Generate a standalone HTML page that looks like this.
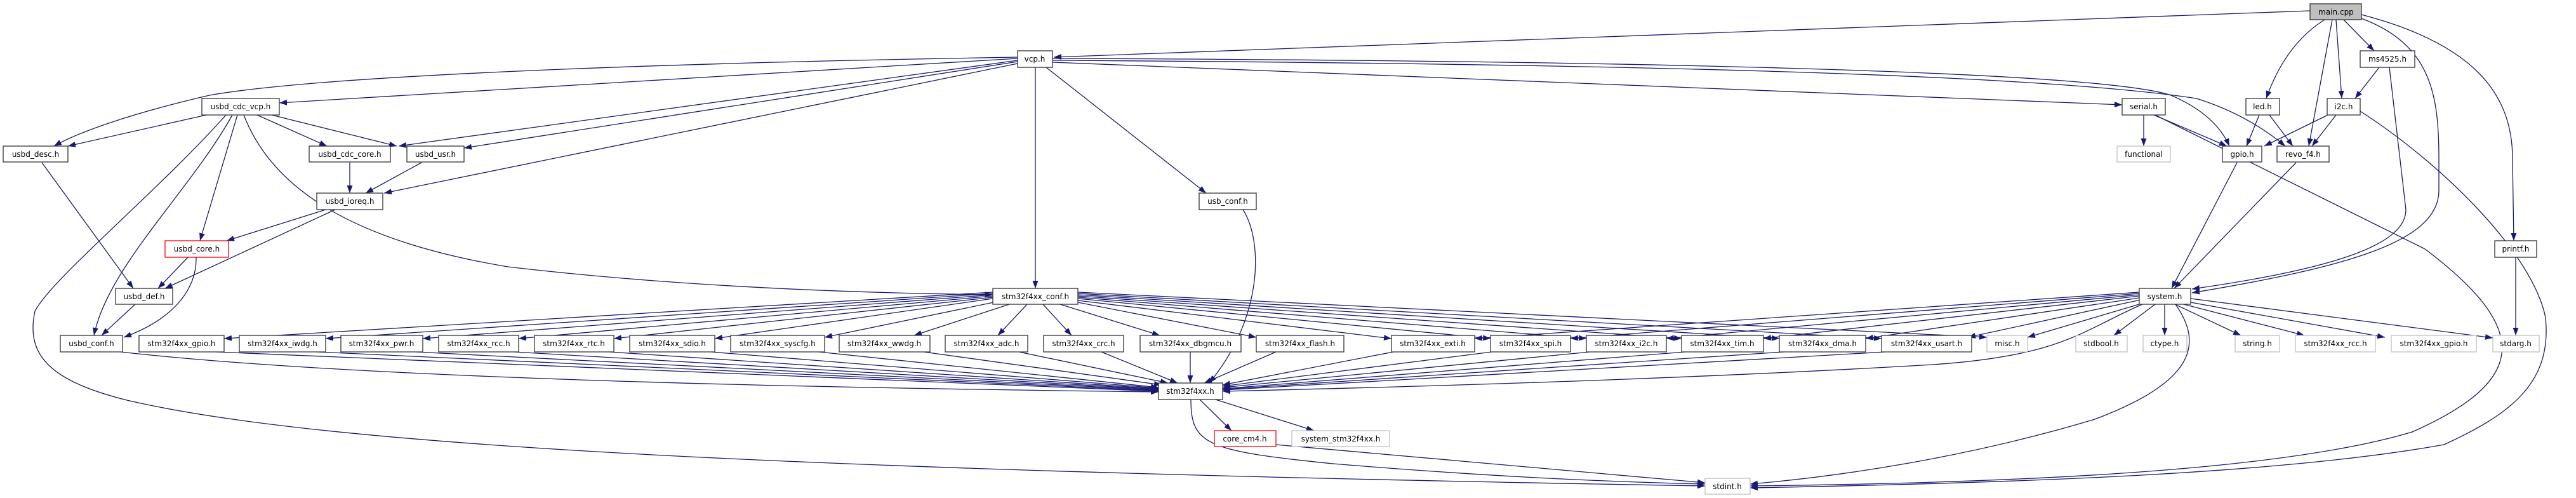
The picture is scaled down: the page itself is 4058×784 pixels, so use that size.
<!DOCTYPE html>
<html><head><meta charset="utf-8"><style>
html,body{margin:0;padding:0;background:#fff;}
svg{display:block;}
text{font-family:"DejaVu Sans","Liberation Sans",sans-serif;font-size:12px;fill:#000;}
.n{fill:#fff;stroke:#333;stroke-width:1.3;}
.g{fill:#fff;stroke:#bfbfbf;stroke-width:1.3;}
.r{fill:#fff;stroke:#ff0000;stroke-width:1.3;}
.m{fill:#bfbfbf;stroke:#333;stroke-width:1.3;}
.e{fill:none;stroke:#191970;stroke-width:1.3;}
</style></head><body>
<svg width="4058" height="784" viewBox="0 0 4058 784" xmlns="http://www.w3.org/2000/svg">
<defs><marker id="a" markerUnits="userSpaceOnUse" markerWidth="14" markerHeight="10" refX="12" refY="4.5" orient="auto"><path d="M0,0 L12,4.5 L0,9 z" fill="#191970"/></marker></defs>
<g class="e" marker-end="url(#a)">
<!-- main.cpp -->
<path d="M3639,17 L1660,90"/>
<path d="M3662,31 Q3600,70 3570,155"/>
<path d="M3674,31 L3637,230"/>
<path d="M3680,31 L3689,155"/>
<path d="M3692,31 L3740,80"/>
<path d="M3720,29 C3830,70 3842,150 3842,250 L3842,300 C3842,380 3700,420 3453,461"/>
<path d="M3720,23 C3900,70 3958,150 3958,250 L3960,379"/>
<!-- ms4525 -->
<path d="M3748,106 L3710,155"/>
<path d="M3764,106 L3790,330 C3790,380 3700,420 3453,455"/>
<!-- led, i2c, serial -->
<path d="M3559,181 L3539,230"/>
<path d="M3575,181 L3612,230"/>
<path d="M3667,181 L3567,230"/>
<path d="M3680,181 L3642,230"/>
<path d="M3377,181 L3377,230"/>
<path d="M3393,181 L3508,230"/>
<path d="M3395,181 L3820,392 C3990,520 3980,600 3800,680 C3600,740 3200,760 2757,765"/>
<path d="M3718,175 C3850,260 3990,400 4010,500 C4020,600 3960,650 3850,700 C3600,745 3200,760 2757,768"/>
<path d="M3524,256 L3421,454"/>
<path d="M3617,256 L3425,454"/>
<!-- vcp.h -->
<path d="M1658,92 C2500,95 3300,110 3420,150 Q3490,180 3512,230"/>
<path d="M1658,95 C2500,100 3200,115 3460,155 Q3540,180 3600,230"/>
<path d="M1658,98 L3343,165"/>
<path d="M1603,92 L440,162"/>
<path d="M1603,90 C1000,100 500,120 330,150 C200,180 120,210 85,230"/>
<path d="M1603,95 L628,230"/>
<path d="M1603,97 L731,233"/>
<path d="M1603,100 L605,304"/>
<path d="M1631,106 L1631,454"/>
<path d="M1648,106 L1900,304"/>
<!-- usbd_cdc_vcp -->
<path d="M325,181 L107,230"/>
<path d="M405,181 L515,230"/>
<path d="M428,181 L625,230"/>
<path d="M374,181 L315,379"/>
<path d="M366,181 C300,300 170,420 148,528"/>
<path d="M356,181 C250,300 80,440 55,490 C40,560 80,600 200,630 C500,700 1200,740 2686,765"/>
<path d="M384,181 C430,300 560,380 800,420 C1100,455 1400,462 1564,464"/>
<path d="M66,256 L210,454"/>
<path d="M551,256 L551,304"/>
<path d="M664,256 L576,304"/>
<path d="M513,330 L357,379"/>
<path d="M528,330 L260,454"/>
<path d="M296,405 L249,454"/>
<path d="M309,405 C310,450 280,500 195,531"/>
<path d="M213,479 L160,528"/>
<!-- conf -> periph -->
<path d="M1564,460 L353,533"/>
<path d="M1564,462 L513,533"/>
<path d="M1564,464 L666,533"/>
<path d="M1564,466 L817,533"/>
<path d="M1564,468 L967,533"/>
<path d="M1564,470 L1126,533"/>
<path d="M1570,475 L1299,531"/>
<path d="M1590,479 L1440,528"/>
<path d="M1618,479 L1572,528"/>
<path d="M1643,479 L1688,528"/>
<path d="M1670,479 L1827,528"/>
<path d="M1698,476 L1979,531"/>
<path d="M1698,473 L2192,533"/>
<path d="M1698,470 L2348,533"/>
<path d="M1698,468 L2499,533"/>
<path d="M1698,466 L2649,533"/>
<path d="M1698,464 L2803,533"/>
<path d="M1698,462 L2964,533"/>
<path d="M1698,460 L3130,531"/>
<!-- system.h -> periph -->
<path d="M3370,460 L2323,533"/>
<path d="M3370,462 L2474,533"/>
<path d="M3370,464 L2625,533"/>
<path d="M3370,466 L2778,533"/>
<path d="M3370,469 L2939,533"/>
<path d="M3372,472 L3100,531"/>
<path d="M3380,476 L3194,531"/>
<path d="M3395,479 L3330,528"/>
<path d="M3410,479 L3410,528"/>
<path d="M3426,479 L3530,528"/>
<path d="M3440,479 L3630,528"/>
<path d="M3451,476 L3757,531"/>
<path d="M3451,470 L3927,532"/>
<path d="M3427,479 C3470,540 3460,600 3300,660 C3100,720 2900,750 2757,762"/>
<path d="M3375,479 C3280,520 3250,560 3045,574 C2600,600 2100,612 1926,616"/>
<path d="M3963,405 L3963,528"/>
<!-- periph -> stm32f4xx.h -->
<path d="M190,554 C600,600 1400,612 1825,617"/>
<path d="M340,554 L1825,616"/>
<path d="M500,554 L1825,615"/>
<path d="M655,554 L1825,614"/>
<path d="M810,554 L1825,613"/>
<path d="M960,554 L1825,612"/>
<path d="M1120,554 L1825,611"/>
<path d="M1290,554 L1825,610"/>
<path d="M1455,554 L1830,606"/>
<path d="M1605,554 L1840,603"/>
<path d="M1735,554 L1855,603"/>
<path d="M1875,554 L1875,603"/>
<path d="M2010,554 L1897,603"/>
<path d="M2195,554 L1926,606"/>
<path d="M2350,554 L1926,608"/>
<path d="M2505,554 L1926,610"/>
<path d="M2655,554 L1926,612"/>
<path d="M2810,554 L1926,613"/>
<path d="M2970,554 L1926,614"/>
<path d="M1958,330 C1990,380 1990,500 1905,603"/>
<path d="M1890,629 L1940,678"/>
<path d="M1915,629 L2070,678"/>
<path d="M1876,629 C1876,700 1900,710 2100,730 C2400,755 2600,760 2686,762"/>
<path d="M2010,700 L2686,760"/>
</g>
<!-- nodes -->
<g>
<rect class="m" x="3639" y="6" width="81" height="25"/><text x="3680" y="23" text-anchor="middle">main.cpp</text>
<rect class="n" x="1603" y="80" width="55" height="26"/><text x="1630" y="97" text-anchor="middle">vcp.h</text>
<rect class="n" x="3718" y="80" width="86" height="26"/><text x="3761" y="97" text-anchor="middle">ms4525.h</text>
<rect class="n" x="318" y="155" width="122" height="26"/><text x="379" y="172" text-anchor="middle">usbd_cdc_vcp.h</text>
<rect class="n" x="3343" y="155" width="68" height="26"/><text x="3377" y="172" text-anchor="middle">serial.h</text>
<rect class="n" x="3538" y="155" width="53" height="26"/><text x="3564" y="172" text-anchor="middle">led.h</text>
<rect class="n" x="3666" y="155" width="52" height="26"/><text x="3692" y="172" text-anchor="middle">i2c.h</text>
<rect class="n" x="5" y="230" width="102" height="25"/><text x="56" y="247" text-anchor="middle">usbd_desc.h</text>
<rect class="n" x="487" y="230" width="128" height="25"/><text x="551" y="247" text-anchor="middle">usbd_cdc_core.h</text>
<rect class="n" x="641" y="230" width="90" height="25"/><text x="686" y="247" text-anchor="middle">usbd_usr.h</text>
<rect class="g" x="3335" y="230" width="84" height="25"/><text x="3377" y="247" text-anchor="middle">functional</text>
<rect class="n" x="3501" y="230" width="62" height="25"/><text x="3532" y="247" text-anchor="middle">gpio.h</text>
<rect class="n" x="3587" y="230" width="82" height="25"/><text x="3628" y="247" text-anchor="middle">revo_f4.h</text>
<rect class="n" x="499" y="304" width="104" height="26"/><text x="551" y="321" text-anchor="middle">usbd_ioreq.h</text>
<rect class="n" x="1889" y="304" width="90" height="26"/><text x="1934" y="321" text-anchor="middle">usb_conf.h</text>
<rect class="n" x="3930" y="379" width="66" height="26"/><text x="3963" y="396" text-anchor="middle">printf.h</text>
<rect class="r" x="260" y="379" width="100" height="26"/><text x="310" y="396" text-anchor="middle">usbd_core.h</text>
<rect class="n" x="182" y="454" width="90" height="25"/><text x="227" y="471" text-anchor="middle">usbd_def.h</text>
<rect class="n" x="1564" y="454" width="134" height="25"/><text x="1631" y="471" text-anchor="middle">stm32f4xx_conf.h</text>
<rect class="n" x="3370" y="454" width="81" height="25"/><text x="3410" y="471" text-anchor="middle">system.h</text>
<rect class="n" x="95" y="528" width="98" height="26"/><text x="144" y="545" text-anchor="middle">usbd_conf.h</text>
<rect class="n" x="219" y="528" width="134" height="26"/><text x="286" y="545" text-anchor="middle">stm32f4xx_gpio.h</text>
<rect class="n" x="377" y="528" width="136" height="26"/><text x="445" y="545" text-anchor="middle">stm32f4xx_iwdg.h</text>
<rect class="n" x="537" y="528" width="129" height="26"/><text x="601" y="545" text-anchor="middle">stm32f4xx_pwr.h</text>
<rect class="n" x="691" y="528" width="126" height="26"/><text x="754" y="545" text-anchor="middle">stm32f4xx_rcc.h</text>
<rect class="n" x="842" y="528" width="125" height="26"/><text x="904" y="545" text-anchor="middle">stm32f4xx_rtc.h</text>
<rect class="n" x="992" y="528" width="134" height="26"/><text x="1059" y="545" text-anchor="middle">stm32f4xx_sdio.h</text>
<rect class="n" x="1151" y="528" width="148" height="26"/><text x="1225" y="545" text-anchor="middle">stm32f4xx_syscfg.h</text>
<rect class="n" x="1322" y="528" width="143" height="26"/><text x="1393" y="545" text-anchor="middle">stm32f4xx_wwdg.h</text>
<rect class="n" x="1489" y="528" width="130" height="26"/><text x="1554" y="545" text-anchor="middle">stm32f4xx_adc.h</text>
<rect class="n" x="1644" y="528" width="126" height="26"/><text x="1707" y="545" text-anchor="middle">stm32f4xx_crc.h</text>
<rect class="n" x="1796" y="528" width="159" height="26"/><text x="1875" y="545" text-anchor="middle">stm32f4xx_dbgmcu.h</text>
<rect class="n" x="1979" y="528" width="138" height="26"/><text x="2048" y="545" text-anchor="middle">stm32f4xx_flash.h</text>
<rect class="n" x="2192" y="528" width="131" height="26"/><text x="2257" y="545" text-anchor="middle">stm32f4xx_exti.h</text>
<rect class="n" x="2348" y="528" width="126" height="26"/><text x="2411" y="545" text-anchor="middle">stm32f4xx_spi.h</text>
<rect class="n" x="2499" y="528" width="126" height="26"/><text x="2562" y="545" text-anchor="middle">stm32f4xx_i2c.h</text>
<rect class="n" x="2649" y="528" width="129" height="26"/><text x="2713" y="545" text-anchor="middle">stm32f4xx_tim.h</text>
<rect class="n" x="2803" y="528" width="136" height="26"/><text x="2871" y="545" text-anchor="middle">stm32f4xx_dma.h</text>
<rect class="n" x="2964" y="528" width="142" height="26"/><text x="3035" y="545" text-anchor="middle">stm32f4xx_usart.h</text>
<rect class="g" x="3130" y="528" width="64" height="26"/><text x="3162" y="545" text-anchor="middle">misc.h</text>
<rect class="g" x="3270" y="528" width="81" height="26"/><text x="3310" y="545" text-anchor="middle">stdbool.h</text>
<rect class="g" x="3376" y="528" width="69" height="26"/><text x="3410" y="545" text-anchor="middle">ctype.h</text>
<rect class="g" x="3521" y="528" width="70" height="26"/><text x="3556" y="545" text-anchor="middle">string.h</text>
<rect class="g" x="3616" y="528" width="126" height="26"/><text x="3679" y="545" text-anchor="middle">stm32f4xx_rcc.h</text>
<rect class="g" x="3767" y="528" width="134" height="26"/><text x="3834" y="545" text-anchor="middle">stm32f4xx_gpio.h</text>
<rect class="g" x="3927" y="528" width="73" height="26"/><text x="3963" y="545" text-anchor="middle">stdarg.h</text>
<rect class="n" x="1825" y="603" width="101" height="26"/><text x="1875" y="620" text-anchor="middle">stm32f4xx.h</text>
<rect class="r" x="1913" y="678" width="97" height="25"/><text x="1961" y="695" text-anchor="middle">core_cm4.h</text>
<rect class="g" x="2035" y="678" width="154" height="25"/><text x="2112" y="695" text-anchor="middle">system_stm32f4xx.h</text>
<rect class="g" x="2686" y="753" width="71" height="25"/><text x="2721" y="770" text-anchor="middle">stdint.h</text>
</g>
</svg>
</body></html>
